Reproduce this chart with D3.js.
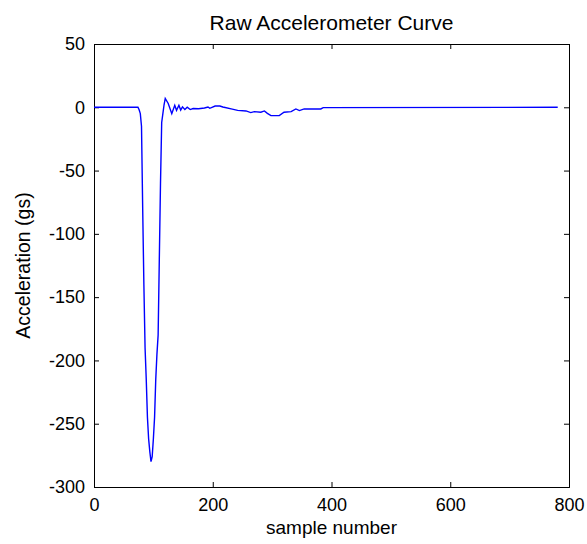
<!DOCTYPE html>
<html>
<head>
<meta charset="utf-8">
<title>Raw Accelerometer Curve</title>
<script src="https://cdn.jsdelivr.net/npm/d3@7"></script>
<style>
    body { margin: 0; background: #fff; }
    #chart-area { width: 587px; height: 544px; }
    text { font-family: "Liberation Sans", Arial, sans-serif; fill: #000; }
</style>
</head>
<body>
<div id="chart-area"></div>
<script>
// values (sample number, acceleration in g)
let samples = [0, 74, 76, 78, 80, 82, 84, 86, 88, 90, 92, 94, 96, 98, 100, 102, 104, 106, 108, 110, 112, 114, 116, 118, 120,
    125, 131, 136, 139, 143, 146, 149, 153, 157, 162, 167, 176, 186, 192, 195, 204, 212, 217, 231, 242, 256, 264, 270,
    281, 287, 292, 298, 312, 320, 332, 340, 346, 354, 382, 386, 781];
let accel = [0, 0, -2, -5, -15, -80, -140, -190, -215, -245, -262, -272, -280, -276, -262, -245, -215, -195, -180, -120, -60, -12, -5, 2, 7,
    3, -5, 1.6, -2.4, 1.6, -2.2, 0.3, -1.8, 0, -1.8, -1, -1.2, -0.6, 0.2, -0.8, 1, 1, 0.2, -1.3, -2.4, -2.9, -4.2, -3.4,
    -3.9, -2.9, -4.8, -6.6, -6.6, -3.9, -3.4, -1.3, -2.6, -1.3, -1.3, -0.3, 0];

let xTicks = [0, 200, 400, 600, 800];
let yTicks = [50, 0, -50, -100, -150, -200, -250, -300];

class LineVis {
    constructor(parentElement) {
        this.parentElement = parentElement;
        this.data = samples.map((s, i) => ({ sample: s, value: accel[i] }));
        this.initVis();
    }

    initVis() {
        let vis = this;

        vis.margin = { top: 44, right: 18, bottom: 57, left: 94 };
        vis.width = 587 - vis.margin.left - vis.margin.right;
        vis.height = 544 - vis.margin.top - vis.margin.bottom;

        vis.svg = d3.select(`#${vis.parentElement}`).append("svg")
            .attr("width", 587)
            .attr("height", 544)
            .append("g")
            .attr("transform", `translate(${vis.margin.left}, ${vis.margin.top})`);

        vis.xScale = d3.scaleLinear().domain([0, 800]).range([0, vis.width]);
        vis.yScale = d3.scaleLinear().domain([-300, 50]).range([vis.height, 0]);

        // matlab style: ticks point inward, on all four sides, plain hyphen for minus
        let tickLen = 5;
        let fmt = d => String(d);
        vis.svg.append("g").attr("class", "x-axis")
            .attr("transform", `translate(0, ${vis.height})`)
            .call(d3.axisBottom(vis.xScale).tickValues(xTicks).tickSize(-tickLen).tickPadding(11).tickFormat(fmt));
        vis.svg.append("g").attr("class", "x-axis-top")
            .call(d3.axisTop(vis.xScale).tickValues(xTicks).tickSize(-tickLen).tickFormat(""));
        vis.svg.append("g").attr("class", "y-axis")
            .call(d3.axisLeft(vis.yScale).tickValues(yTicks).tickSize(-tickLen).tickPadding(9).tickFormat(fmt));
        vis.svg.append("g").attr("class", "y-axis-right")
            .attr("transform", `translate(${vis.width}, 0)`)
            .call(d3.axisRight(vis.yScale).tickValues(yTicks).tickSize(-tickLen).tickFormat(""));

        vis.svg.selectAll(".domain").attr("stroke", "#000").attr("stroke-width", 1);
        vis.svg.selectAll(".tick line").attr("stroke", "#000");
        vis.svg.selectAll(".tick text")
            .attr("font-size", 18)
            .attr("font-family", "Liberation Sans, Arial, sans-serif");

        vis.svg.append("text")
            .attr("text-anchor", "middle")
            .attr("x", vis.width / 2)
            .attr("y", -14)
            .attr("font-size", 21)
            .text("Raw Accelerometer Curve");

        vis.svg.append("text")
            .attr("text-anchor", "middle")
            .attr("x", vis.width / 2)
            .attr("y", vis.height + 47)
            .attr("font-size", 19)
            .text("sample number");

        vis.svg.append("text")
            .attr("text-anchor", "middle")
            .attr("transform", `translate(${-vis.margin.left + 30}, ${vis.height / 2}) rotate(-90)`)
            .attr("font-size", 19.5)
            .text("Acceleration (gs)");

        vis.updateVis();
    }

    updateVis() {
        let vis = this;

        let line = d3.line()
            .x(d => vis.xScale(d.sample))
            .y(d => vis.yScale(d.value));

        vis.svg.append("path")
            .datum(vis.data)
            .attr("fill", "none")
            .attr("stroke", "#0000ff")
            .attr("stroke-width", 1.4)
            .attr("d", line);
    }
}

new LineVis("chart-area");
</script>
</body>
</html>
